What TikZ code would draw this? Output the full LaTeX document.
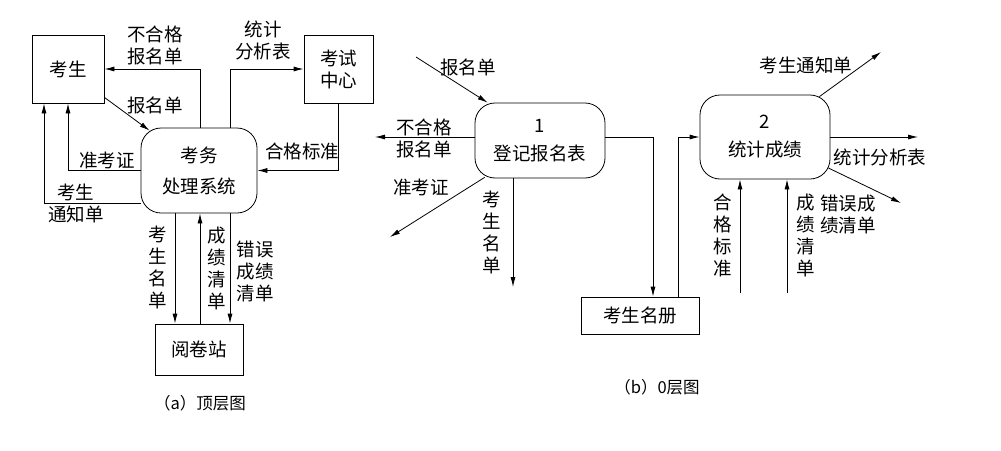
\documentclass[tikz,border=0pt]{standalone}
\usepackage{fontspec}
\setmainfont{Noto Sans CJK SC}
\usetikzlibrary{arrows.meta,positioning,calc}

\begin{document}
\begin{tikzpicture}[x=1pt,y=-1pt,font=\fontsize{18.5}{22}\selectfont,line width=0.8pt,
  box/.style={draw,inner sep=0pt,align=center},
  proc/.style={box,rounded corners=20pt},
  flow/.style={-{Latex[length=10pt,width=5pt]}},
  lbl/.style={inner sep=0pt,align=center},
  figcap/.style={inner sep=0pt,font=\fontsize{16.5}{20}\selectfont}]
  \useasboundingbox[fill=white] (0,0) rectangle (1001,450);

  % (a) top-level diagram
  \node[box,minimum width=72pt,minimum height=68pt] (kaosheng) at (68,69) {考生};
  \node[box,minimum width=69pt,minimum height=68pt] (zhongxin) at (338.5,69) {考试\\中心};
  \node[proc,minimum width=116pt,minimum height=85pt] (kaowu) at (199,170.5) {考务\\[9pt]处理系统};
  \node[box,minimum width=88pt,minimum height=51pt] (yuejuan) at (199,349.5) {阅卷站};

  \draw[flow] ([xshift=1pt]kaowu.north) |- (kaosheng.east);
  \draw[flow] ([xshift=31pt]kaowu.north) |- (zhongxin.west);
  \draw[flow] ([yshift=6pt]kaosheng.south east) -- ([xshift=9pt,yshift=-3pt]kaowu.north west);
  \draw[flow] (kaowu.west) -| (kaosheng.south);
  \draw[flow] ([yshift=-33pt]kaowu.west) -| ([xshift=-24pt]kaosheng.south);
  \draw[flow] (zhongxin.south) |- (kaowu.east);
  \draw[flow] ([xshift=-24pt]kaowu.south) -- ([xshift=-24pt]yuejuan.north);
  \draw[flow] ([xshift=1pt]yuejuan.north) -- ([xshift=1pt]kaowu.south);
  \draw[flow] ([xshift=31pt]kaowu.south) -- ([xshift=31pt]yuejuan.north);

  \node[lbl] (l-buhege) at (155,45) {不合格\\报名单};
  \node[lbl] (l-tongji) at (263,40) {统计\\分析表};
  \node[lbl] (l-baoming) at (155,105) {报名单};
  \node[lbl] (l-zhunkao) at (107,160) {准考证};
  \node[lbl] (l-tongzhi) at (76,203) {考生\\通知单};
  \node[lbl] (l-hege) at (302,151) {合格标准};
  \node[lbl] (l-mingdan) at (158,267) {考\\生\\名\\单};
  \node[lbl] (l-chengji) at (217,268) {成\\绩\\清\\单};
  \node[lbl] (l-cuowu) at (255,271) {错误\\成绩\\清单};
  \node[figcap] (cap-a) at (200,403) {（a）顶层图};

  % (b) level-0 diagram
  \node[proc,minimum width=130pt,minimum height=75pt] (p1) at (540,140.5) {1\\[6pt]登记报名表};
  \node[proc,minimum width=130pt,minimum height=84pt] (p2) at (765,137) {2\\[6pt]统计成绩};
  \node[box,minimum width=118pt,minimum height=37pt] (mingce) at (640,315.5) {考生名册};

  \coordinate (in-bm) at (416,57);
  \coordinate (out-bhg) at (375,137);
  \coordinate (out-zkz) at (390,237);
  \coordinate (out-md) at (513,287);
  \coordinate (out-tz) at (881,52);
  \coordinate (out-fx) at (918,137);
  \coordinate (out-cw) at (901,203);
  \coordinate (in-hg) at (740,293);
  \coordinate (in-cj) at (787,293);

  \draw[flow] (in-bm) -- ([xshift=13pt]p1.north west);
  \draw[flow] ([yshift=3.5pt]p1.west) -- (out-bhg);
  \draw[flow] ([xshift=10pt,yshift=1pt]p1.south west) -- (out-zkz);
  \draw[flow] ([xshift=-27pt]p1.south) -- (out-md);
  \draw[flow] ([yshift=3.5pt]p1.east) -| ([xshift=13pt]mingce.north);
  \draw[flow] ([xshift=38pt]mingce.north) |- (p2.west);
  \draw[flow] ([xshift=-11pt,yshift=-2pt]p2.north east) -- (out-tz);
  \draw[flow] (p2.east) -- (out-fx);
  \draw[flow] ([xshift=-2pt,yshift=-31pt]p2.east) -- (out-cw);
  \draw[flow] (in-hg) -- (in-hg |- p2.south);
  \draw[flow] (in-cj) -- (in-cj |- p2.south);

  \node[lbl] (r-baoming) at (468,67) {报名单};
  \node[lbl] (r-buhege) at (424,138) {不合格\\报名单};
  \node[lbl] (r-zhunkao) at (421,187) {准考证};
  \node[lbl] (r-mingdan) at (492,232) {考\\生\\名\\单};
  \node[lbl] (r-tongzhi) at (806,65) {考生通知单};
  \node[lbl] (r-fenxi) at (880,157) {统计分析表};
  \node[lbl] (r-cuowu) at (848,214) {错误成\\绩清单};
  \node[lbl] (r-hege) at (723,235) {合\\格\\标\\准};
  \node[lbl] (r-chengji) at (806,235) {成\\绩\\清\\单};
  \node[figcap] (cap-b) at (657,387) {（b）0层图};
\end{tikzpicture}
\end{document}
